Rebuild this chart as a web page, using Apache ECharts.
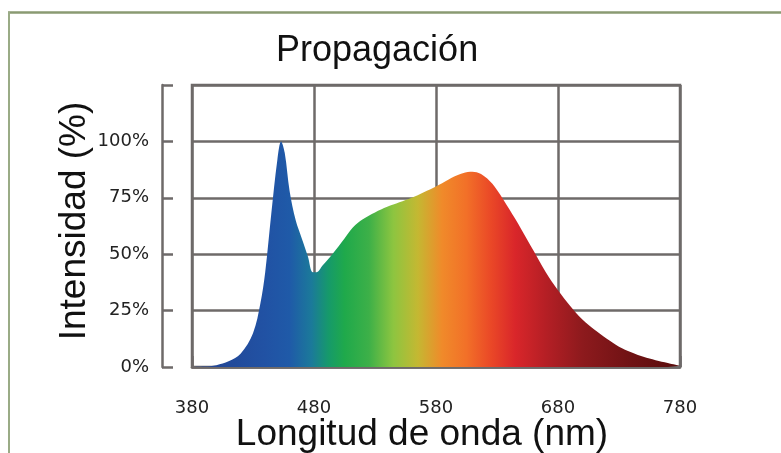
<!DOCTYPE html>
<html>
<head>
<meta charset="utf-8">
<script src="https://cdn.jsdelivr.net/npm/echarts@6/dist/echarts.min.js"></script>
<style>html,body{margin:0;padding:0;background:#fff}#c{width:781px;height:453px}</style>
</head>
<body>
<div id="c"></div>
<script>
const wavelengths = [380,390,400,410,420,430,436,440,445,450,453,456,460,465,470,475,479,482,487,495,505,512,520,530,540,550,560,570,580,590,600,608,615,622,630,640,650,660,670,680,690,700,710,720,730,740,750,760,770,780];
const intensity =   [0,0.2,0.8,2.5,6,15,28,42,68,92,100,95,78,65,57,49,42,42,45,50,57,62,65.5,68.5,71,73,75,77.5,80,83,85.5,86.5,86,83.5,78.5,70,61,51.5,42,34,27,21,16.5,12.5,9,6.5,4.5,3,1.8,0.5];
const xTicks = [380,480,580,680,780];
const yTicks = [0,25,50,75,100];
const titleText = 'Propagación';
const xName = 'Longitud de onda (nm)';
const yName = 'Intensidad (%)';

const axisGray = '#6e6a69';
const font = 'Liberation Sans, Arial, sans-serif';
const tickFont = 'DejaVu Sans, sans-serif';
const chart = echarts.init(document.getElementById('c'));

// spectral colour stops by wavelength
const spectrum = [
  [380,'#23418f'],[440,'#2152a4'],[460,'#1f5aa8'],[478,'#1b7a9a'],[492,'#169a6a'],[505,'#1fa94b'],
  [525,'#3db048'],[545,'#8dc540'],[565,'#c4b832'],[585,'#f08a2a'],[605,'#f27028'],[625,'#ea4827'],
  [645,'#d9262a'],[670,'#b51f25'],[700,'#8d1a1d'],[740,'#6f1214'],[780,'#5a0c0c']
];
const stops = spectrum.map(s => ({offset:(s[0]-380)/400, color:s[1]}));

chart.setOption({
  backgroundColor:'#ffffff',
  animation:false,
  title:{text:titleText,left:271,top:28,textStyle:{fontFamily:font,fontSize:36,fontWeight:'normal',color:'#111'}},
  graphic:[
    {type:'line',shape:{x1:8,y1:12.5,x2:781,y2:12.5},style:{stroke:'#8a9a72',lineWidth:2.5},silent:true},
    {type:'line',shape:{x1:9,y1:12,x2:9,y2:453},style:{stroke:'#9aab86',lineWidth:2},silent:true}
  ],
  grid:{left:192,right:101,top:85,bottom:86,show:true,borderColor:axisGray,borderWidth:2.5,backgroundColor:'transparent',
        containLabel:false,outerBoundsMode:'none'},
  xAxis:[
    {type:'value',min:380,max:780,interval:100,axisLine:{show:false},axisTick:{show:false},axisLabel:{show:false},
     splitLine:{show:true,lineStyle:{color:axisGray,width:2.5}}},
    {type:'value',min:380,max:780,interval:100,position:'bottom',offset:25,
     axisLine:{show:true,lineStyle:{color:axisGray,width:2.5}},
     axisTick:{show:true,inside:true,length:11,lineStyle:{color:axisGray,width:2.5}},
     axisLabel:{show:true,margin:7,fontFamily:tickFont,fontSize:18,color:'#222',formatter:v=>xTicks.includes(v)?String(v):''},
     splitLine:{show:false},
     name:xName,nameLocation:'middle',nameGap:24,nameMoveOverlap:false,
     nameTextStyle:{fontFamily:font,fontSize:37,color:'#111',padding:[0,28,0,0]}}
  ],
  yAxis:[
    {type:'value',min:0,max:125,interval:25,axisLine:{show:false},axisTick:{show:false},axisLabel:{show:false},
     splitLine:{show:true,lineStyle:{color:axisGray,width:2.5}}},
    {type:'value',min:0,max:125,interval:25,position:'left',offset:30,
     axisLine:{show:true,lineStyle:{color:axisGray,width:2.5}},
     axisTick:{show:true,inside:true,length:11,lineStyle:{color:axisGray,width:2.5}},
     axisLabel:{show:true,margin:13,fontFamily:tickFont,fontSize:18,color:'#222',formatter:v=>yTicks.includes(v)?v+'%':''},
     splitLine:{show:false},
     name:yName,nameLocation:'middle',nameGap:69,nameMoveOverlap:false,
     nameTextStyle:{fontFamily:font,fontSize:37,color:'#111',padding:[0,0,0,10]}}
  ],
  series:[{
    type:'line',xAxisIndex:0,yAxisIndex:0,
    data:wavelengths.map((w,i)=>[w,intensity[i]]),
    smooth:0.35,showSymbol:false,symbol:'none',
    lineStyle:{width:0},
    areaStyle:{opacity:1,color:new echarts.graphic.LinearGradient(0,0,1,0,stops)},
    z:1
  }]
});
</script>
</body>
</html>
